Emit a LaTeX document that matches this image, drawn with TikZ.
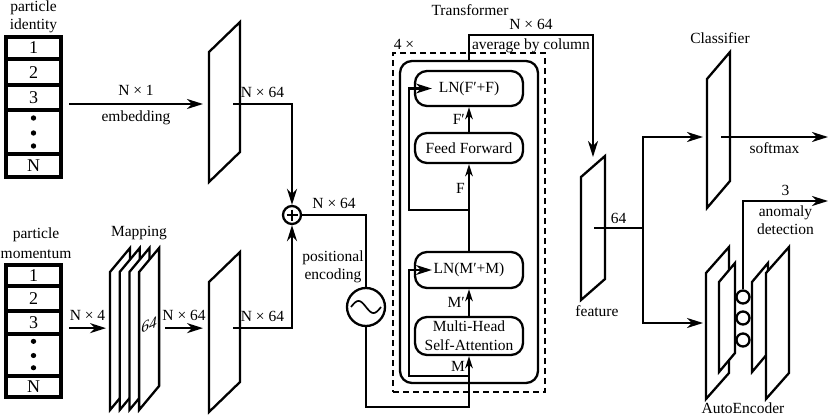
\documentclass[tikz,border=0pt]{standalone}
\usepackage{fontspec}
\setmainfont{Liberation Serif}
\usetikzlibrary{arrows.meta, positioning, calc}

% stack of particle entries (name, top y, y scale)
\newcommand{\partstack}[3]{%
  \begin{scope}[shift={(0,#2)}, yscale=#3, every node/.style={font=\fontsize{18}{20}\selectfont, inner sep=0pt}]
    \draw[line width=4pt] (6,2) rectangle (61,142);
    \foreach \sy in {24.5,50.5,75.5,119.5}
      \draw[line width=4pt] (6,\sy) -- (61,\sy);
    \node (#1-1) at (33.5,13) {1};
    \node (#1-2) at (33.5,37.5) {2};
    \node (#1-3) at (33.5,63) {3};
    \node (#1-n) at (33.5,131) {N};
    \foreach \dy in {83,98,111}
      \fill (33.5,\dy) circle (2.7pt);
    \coordinate (#1-out) at (69,69);
  \end{scope}}

% slanted sheet for a layer (name, left x, top y, width, height, skew)
\newcommand{\layerplane}[6]{%
  \draw[fill=white] (#2,#3+#6) -- (#2+#4,#3) -- (#2+#4,#3+#5) -- (#2,#3+#5+#6) -- cycle;
  \coordinate (#1-l) at (#2,#3+#6+#5/2);
  \coordinate (#1-r) at (#2+#4,#3+#5/2);}

\begin{document}
\begin{tikzpicture}[x=1pt, y=-1pt, line width=2.3pt,
    >={Stealth[length=16pt, width=10pt, inset=5pt]},
    every node/.style={font=\fontsize{15.5}{18}\selectfont, inner sep=0pt},
    lnbox/.style={draw, rounded corners=12pt, minimum width=108pt, align=center},
    thinarrow/.style={-{Stealth[length=12pt, width=7.5pt, inset=3.5pt]}}]
  \useasboundingbox (0,0) rectangle (830,417);

  % inputs
  \node[align=center] (idlabel) at (33.5,17) {particle\\identity};
  \partstack{id}{35}{1}
  \node[align=center] (momlabel) at (36,243) {particle\\[2pt]momentum};
  \partstack{mom}{263}{0.944}

  % embedding, mapping and projection
  \layerplane{emb}{209}{22}{31}{130}{30}
  \layerplane{proj}{209}{252}{31}{130}{30}
  \foreach \i in {0,...,3}
    \layerplane{map\i}{110+9.7*\i}{248}{20}{138}{24}
  \node[font=\fontsize{15.5}{18}\selectfont\itshape, yslant=0.5] (maptext) at (149,325) {64};
  \node (maplabel) at (139,233) {Mapping};

  \draw[->] (id-out) -- node[above=7pt] {N × 1} node[below=6pt] {embedding} ([xshift=-6pt]emb-l |- id-out);
  \draw[->] (mom-out) -- node[above=6pt] {N × 4} ([xshift=-4pt]map0-l |- mom-out);
  \draw[->] ([xshift=6pt]map3-r |- mom-out) -- node[above=6pt] {N × 64} ([xshift=-6pt]proj-l |- mom-out);

  % sum and positional encoding
  \node[circle, draw, minimum size=18pt] (plus) at (292,215) {};
  \draw[line width=1.4pt] ($(plus)+(-5.5,0)$) -- ($(plus)+(5.5,0)$) ($(plus)+(0,-5.5)$) -- ($(plus)+(0,5.5)$);
  \draw[->] ([xshift=-7pt]emb-r |- id-out) -| node[pos=0.25, above=5pt] {N × 64} (plus);
  \draw[->] ([xshift=-7pt]proj-r |- mom-out) -| node[pos=0.25, above=5pt] {N × 64} (plus);
  \node[circle, draw, minimum size=38pt] (pe) at (366,307) {};
  \draw[shift={(pe)}, line width=1.7pt, domain=-15:15, samples=40, smooth] plot (\x, {6*sin(12*\x)});
  \node[align=center] (pelabel) at (333,267) {positional\\encoding};
  \draw (plus) -| node[pos=0.25, above=5pt] {N × 64} (pe);

  % transformer block
  \node[draw, dash pattern=on 6pt off 4pt, minimum width=152pt, minimum height=339pt] (rep) at (469,222.5) {};
  \node[draw, rounded corners=12pt, minimum width=138pt, minimum height=322pt] (blockframe) at (469,222) {};
  \node (repcount) at (404,44) {4 ×};
  \node (translabel) at (470,10) {Transformer};
  \node[lnbox, minimum height=35pt] (lnf) at (469,88.5) {LN(F′+F)};
  \node[lnbox, minimum height=30pt] (ff) at (469,148) {Feed Forward};
  \node[lnbox, minimum height=36pt] (lnm) at (469,270) {LN(M′+M)};
  \node[lnbox, minimum height=38pt] (mhsa) at (469,336) {Multi-Head\\[1pt]Self-Attention};

  \coordinate (skipx) at (409,0);
  \coordinate (mjoin) at (469,376);
  \coordinate (fjoin) at (469,210);
  \coordinate (mbase) at (469,407);
  \draw[thinarrow] (pe) |- (mbase) -- node[pos=0.8, left=3pt] {M} (mhsa);
  \draw[->] (mjoin) -- (mjoin -| skipx) |- ([xshift=18pt]lnm.west);
  \draw[thinarrow] (mhsa) -- node[left=3pt] {M′} (lnm);
  \draw[thinarrow] (lnm) -- node[pos=0.72, left=3pt] {F} (ff);
  \draw[->] (fjoin) -- (fjoin -| skipx) |- ([xshift=18pt]lnf.west);
  \draw[thinarrow] (ff) -- node[left=3pt] {F′} (lnf);

  % pooling to the feature vector
  \layerplane{feat}{581}{156}{24}{123}{21}
  \node (featlabel) at (597,311) {feature};
  \coordinate (featin) at (593,157);
  \coordinate (poolrow) at (0,35);
  \draw[->] (blockframe.north) |- node[pos=0.75, above=4pt] {N × 64} node[pos=0.75, below=3pt] {average by column} (featin |- poolrow) -- (featin);

  % classifier head
  \coordinate (split) at (643,228);
  \draw ([xshift=-11pt]feat-r |- split) -- node[above=3pt] {64} (split);
  \layerplane{cls}{707}{52}{23}{129}{27}
  \node (clslabel) at (720,38) {Classifier};
  \coordinate (clsin) at (703,137);
  \coordinate (clsout) at (721,137);
  \coordinate (smax) at (828,137);
  \draw[->] (split) |- (clsin);
  \draw[->] (clsout) -- node[below=4pt] {softmax} (smax);

  % autoencoder head
  \coordinate (aein) at (703,323);
  \draw[->] (split) |- (aein);
  \layerplane{enc1}{706}{247}{23}{126}{26}
  \layerplane{enc2}{719}{263}{16}{90}{19}
  \layerplane{dec2}{752}{263}{16}{90}{19}
  \layerplane{dec1}{766}{247}{23}{126}{26}
  \foreach \cy [count=\k] in {297,318,340}
    \node[circle, draw, fill=white, minimum size=13pt] (lat\k) at (743,\cy) {};
  \node (aelabel) at (743,408) {AutoEncoder};
  \coordinate (anomout) at (828,201);
  \draw[->] (lat1) |- node[pos=0.75, above=4pt] {3} node[pos=0.75, below=4pt, align=center] {anomaly\\detection} (anomout);
\end{tikzpicture}
\end{document}
